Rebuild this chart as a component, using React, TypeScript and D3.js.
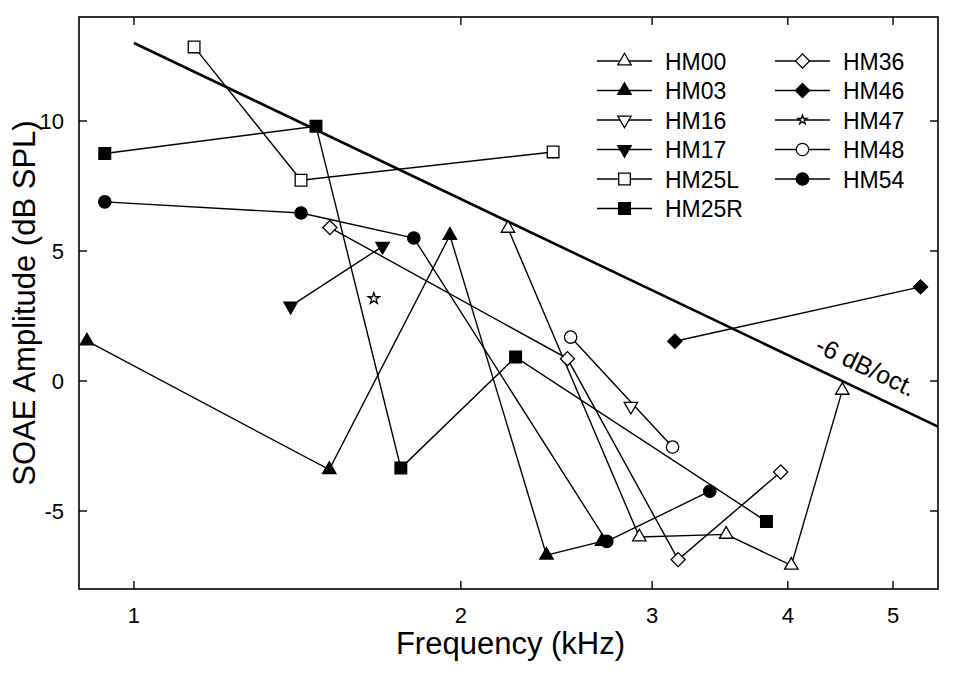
import * as d3 from 'd3';
import React, { useRef, useEffect } from 'react';

// SOAE amplitudes per subject (frequency in kHz, amplitude in dB SPL)
const hm00Freq = [2.21, 2.92, 3.51, 4.03, 4.49];
const hm00Amp = [5.87, -6.0, -5.9, -7.09, -0.36];
const hm03Freq = [0.905, 1.513, 1.954, 2.398, 2.697];
const hm03Amp = [1.54, -3.41, 5.6, -6.7, -6.17];
const hm16Freq = [2.868];
const hm16Amp = [-0.97];
const hm17Freq = [1.394, 1.694];
const hm17Amp = [2.88, 5.18];
const hm25LFreq = [1.136, 1.425, 2.432];
const hm25LAmp = [12.85, 7.72, 8.81];
const hm25RFreq = [0.94, 1.471, 1.761, 2.246, 3.823];
const hm25RAmp = [8.75, 9.8, -3.35, 0.92, -5.4];
const hm36Freq = [1.515, 2.507, 3.17, 3.94];
const hm36Amp = [5.9, 0.86, -6.87, -3.5];
const hm46Freq = [3.148, 5.3];
const hm46Amp = [1.53, 3.62];
const hm47Freq = [1.663];
const hm47Amp = [3.17];
const hm48Freq = [2.524, 3.133];
const hm48Amp = [1.69, -2.54];
const hm54Freq = [0.94, 1.425, 1.81, 2.725, 3.39];
const hm54Amp = [6.89, 6.46, 5.5, -6.17, -4.24];

// -6 dB/oct reference line
const refFreq = [1, 5.5];
const refAt1k = 13;
const refSlope = -6;

const xTicks = [1, 2, 3, 4, 5];
const yTicks = [-5, 0, 5, 10];

const series = [
    { name: 'HM00', f: hm00Freq, a: hm00Amp, shape: 'triUp', fill: false },
    { name: 'HM03', f: hm03Freq, a: hm03Amp, shape: 'triUp', fill: true },
    { name: 'HM16', f: hm16Freq, a: hm16Amp, shape: 'triDown', fill: false },
    { name: 'HM17', f: hm17Freq, a: hm17Amp, shape: 'triDown', fill: true },
    { name: 'HM25L', f: hm25LFreq, a: hm25LAmp, shape: 'square', fill: false },
    { name: 'HM25R', f: hm25RFreq, a: hm25RAmp, shape: 'square', fill: true },
    { name: 'HM36', f: hm36Freq, a: hm36Amp, shape: 'diamond', fill: false },
    { name: 'HM46', f: hm46Freq, a: hm46Amp, shape: 'diamond', fill: true },
    { name: 'HM47', f: hm47Freq, a: hm47Amp, shape: 'star', fill: false },
    { name: 'HM48', f: hm48Freq, a: hm48Amp, shape: 'circle', fill: false },
    { name: 'HM54', f: hm54Freq, a: hm54Amp, shape: 'circle', fill: true },
];

const symbolFor = (shape: string, legend = false) => {
    switch (shape) {
        case 'triUp':
        case 'triDown':
            return { path: d3.symbol(d3.symbolTriangle, 78)(), rot: shape === 'triDown' ? 180 : 0 };
        case 'square':
            return { path: d3.symbol(d3.symbolSquare, 136)(), rot: 0 };
        case 'diamond':
            return { path: d3.symbol(d3.symbolSquare, 100)(), rot: 45 };
        case 'star':
            return { path: d3.symbol(d3.symbolStar, legend ? 26 : 40)(), rot: 0 };
        default:
            return { path: d3.symbol(d3.symbolCircle, 120)(), rot: 0 };
    }
};

const W = 953;
const H = 675;
const margin = { top: 17, right: 15, bottom: 86, left: 79 };
const font = '"Liberation Sans", Arial, sans-serif';

export default function App() {
    const ref = useRef<SVGSVGElement>(null);

    useEffect(() => {
        const svg = d3.select(ref.current);
        svg.selectAll('*').remove();

        const x = d3.scaleLog().domain([0.89, 5.5]).range([margin.left, W - margin.right]);
        const y = d3.scaleLinear().domain([-8, 14]).range([H - margin.bottom, margin.top]);
        const x0 = margin.left, x1 = W - margin.right;
        const y0 = H - margin.bottom, y1 = margin.top;

        svg.append('rect')
            .attr('width', W).attr('height', H).attr('fill', '#fff');

        // frame
        svg.append('rect')
            .attr('x', x0).attr('y', y1)
            .attr('width', x1 - x0).attr('height', y0 - y1)
            .attr('fill', 'none').attr('stroke', '#000').attr('stroke-width', 1.6);

        const tickLen = 8;
        const ticks = svg.append('g').attr('stroke', '#000').attr('stroke-width', 1.4);
        xTicks.forEach(t => {
            ticks.append('line').attr('x1', x(t)).attr('x2', x(t)).attr('y1', y0).attr('y2', y0 - tickLen);
            ticks.append('line').attr('x1', x(t)).attr('x2', x(t)).attr('y1', y1).attr('y2', y1 + tickLen);
        });
        yTicks.forEach(t => {
            ticks.append('line').attr('y1', y(t)).attr('y2', y(t)).attr('x1', x0).attr('x2', x0 + tickLen);
            ticks.append('line').attr('y1', y(t)).attr('y2', y(t)).attr('x1', x1).attr('x2', x1 - tickLen);
        });

        svg.append('g')
            .selectAll('text')
            .data(xTicks)
            .join('text')
            .attr('x', d => x(d))
            .attr('y', 623)
            .attr('text-anchor', 'middle')
            .style('font-family', font)
            .style('font-size', '22px')
            .text(d => d);

        svg.append('g')
            .selectAll('text')
            .data(yTicks)
            .join('text')
            .attr('x', 64)
            .attr('y', d => y(d) + 8)
            .attr('text-anchor', 'end')
            .style('font-family', font)
            .style('font-size', '22px')
            .text(d => d);

        svg.append('text')
            .attr('x', (x0 + x1) / 2 + 2)
            .attr('y', 654)
            .attr('text-anchor', 'middle')
            .style('font-family', font)
            .style('font-size', '31px')
            .text('Frequency (kHz)');

        svg.append('text')
            .attr('transform', `translate(35, ${(y0 + y1) / 2}) rotate(-90)`)
            .attr('text-anchor', 'middle')
            .style('font-family', font)
            .style('font-size', '31px')
            .text('SOAE Amplitude (dB SPL)');

        // -6 dB/oct line
        const ref6 = refFreq.map(f => ({ f, a: refAt1k + refSlope * Math.log2(f) }));
        svg.append('path')
            .datum(ref6)
            .attr('fill', 'none')
            .attr('stroke', '#000')
            .attr('stroke-width', 2.6)
            .attr('d', d3.line<{ f: number, a: number }>().x(d => x(d.f)).y(d => y(d.a)));

        const angle = Math.atan2(y(ref6[1].a) - y(ref6[0].a), x(ref6[1].f) - x(ref6[0].f)) * 180 / Math.PI;
        svg.append('text')
            .attr('transform', `translate(866, 366) rotate(${angle})`)
            .attr('text-anchor', 'middle')
            .attr('dominant-baseline', 'central')
            .style('font-family', font)
            .style('font-size', '25px')
            .text('-6 dB/oct.');

        // series lines
        series.forEach(s => {
            const pts = s.f.map((f, i) => [x(f), y(s.a[i])] as [number, number]);
            if (pts.length > 1) {
                svg.append('path')
                    .attr('fill', 'none')
                    .attr('stroke', '#000')
                    .attr('stroke-width', 1.4)
                    .attr('d', d3.line()(pts));
            }
        });

        // markers
        series.forEach(s => {
            const sym = symbolFor(s.shape);
            svg.append('g')
                .selectAll('path')
                .data(s.f.map((f, i) => ({ f, a: s.a[i] })))
                .join('path')
                .attr('d', sym.path)
                .attr('transform', d => `translate(${x(d.f)},${y(d.a)}) rotate(${sym.rot})`)
                .attr('fill', s.fill ? '#000' : '#fff')
                .attr('stroke', '#000')
                .attr('stroke-width', 1.3);
        });

        // legend
        const legend = svg.append('g');
        series.forEach((s, i) => {
            const col = i < 6 ? 0 : 1;
            const row = i < 6 ? i : i - 6;
            const lx = col === 0 ? 597 : 775;
            const ly = 61 + row * 29.5;
            legend.append('line')
                .attr('x1', lx).attr('x2', lx + 55)
                .attr('y1', ly).attr('y2', ly)
                .attr('stroke', '#000').attr('stroke-width', 1.4);
            const sym = symbolFor(s.shape, true);
            legend.append('path')
                .attr('d', sym.path)
                .attr('transform', `translate(${lx + 27.5},${ly}) rotate(${sym.rot})`)
                .attr('fill', s.fill ? '#000' : '#fff')
                .attr('stroke', '#000')
                .attr('stroke-width', 1.3);
            legend.append('text')
                .attr('x', lx + 68)
                .attr('y', ly + 8.5)
                .style('font-family', font)
                .style('font-size', '23px')
                .text(s.name);
        });
    }, []);

    return (
        <svg ref={ref} width={W} height={H}
            style={{ position: 'absolute', left: 0, top: 0, display: 'block' }} />
    );
}
